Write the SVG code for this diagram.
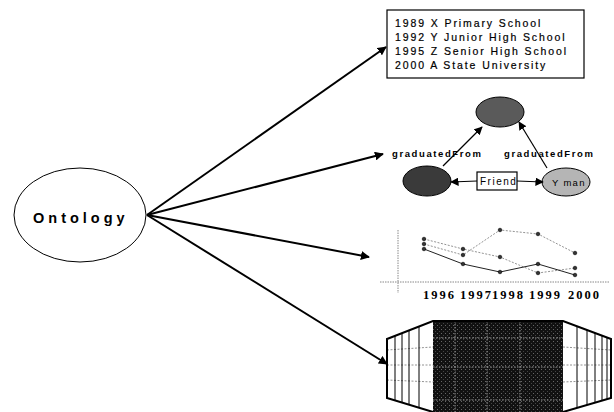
<svg xmlns="http://www.w3.org/2000/svg" width="614" height="412" viewBox="0 0 614 412">
<defs>
<marker id="ah" viewBox="0 0 10 10" refX="9" refY="5" markerWidth="4.5" markerHeight="4.5" orient="auto" markerUnits="strokeWidth"><path d="M0,0 L10,5 L0,10 z" fill="#000"/></marker>
<marker id="ahs" viewBox="0 0 10 10" refX="9" refY="5" markerWidth="7" markerHeight="7" orient="auto" markerUnits="strokeWidth"><path d="M0,0 L10,5 L0,10 z" fill="#000"/></marker>
<pattern id="spk" width="4" height="4" patternUnits="userSpaceOnUse"><rect width="4" height="4" fill="#111"/><rect x="1" y="1" width="1" height="1" fill="#666"/><rect x="3" y="3" width="1" height="1" fill="#444"/></pattern>
</defs>
<style>
.sans{font-family:"Liberation Sans",Arial,sans-serif;fill:#000}
.box{fill:#fff;stroke:#000;stroke-width:1.2}
.con{stroke:#000;stroke-width:2;fill:none}
.thin{stroke:#000;stroke-width:1.2;fill:none}
.pt{fill:#333;stroke:#000;stroke-width:0.6}
.gl{stroke:#777;stroke-width:0.8;stroke-dasharray:2,1.5;fill:none}
.wl{stroke:#bbb;stroke-width:0.8;stroke-dasharray:1.5,1.5;fill:none}
.vl{stroke:#000;stroke-width:1;fill:none}
</style>
<rect width="614" height="412" fill="#fff"/>

<g id="connectors">
<line class="con" x1="147" y1="215" x2="386" y2="47" marker-end="url(#ah)"/>
<line class="con" x1="147" y1="215" x2="383" y2="154" marker-end="url(#ah)"/>
<line class="con" x1="147" y1="215" x2="369" y2="257" marker-end="url(#ah)"/>
<line class="con" x1="147" y1="215" x2="387" y2="364" marker-end="url(#ah)"/>
</g>

<g id="ontology">
<ellipse cx="80" cy="215" rx="66" ry="47" fill="#fff" stroke="#000" stroke-width="1"/>
<text class="sans" x="33" y="223" font-size="14.5" font-weight="bold" letter-spacing="4">Ontology</text>
</g>

<g id="history">
<rect class="box" x="387" y="10" width="197" height="68"/>
<g class="sans" font-size="10.5" letter-spacing="1.9" stroke="#000" stroke-width="0.2">
<text x="395" y="27">1989 X Primary School</text>
<text x="395" y="41">1992 Y Junior High School</text>
<text x="395" y="55">1995 Z Senior High School</text>
<text x="395" y="69">2000 A State University</text>
</g>
</g>

<g id="relations">
<ellipse cx="500" cy="112" rx="24" ry="15" fill="#5a5a5a" stroke="#000" stroke-width="1"/>
<ellipse cx="427" cy="181" rx="24" ry="15" fill="#3a3a3a" stroke="#000" stroke-width="1"/>
<ellipse cx="566" cy="182" rx="24" ry="14" fill="#b5b5b5" stroke="#000" stroke-width="1"/>
<text class="sans" x="552" y="186" font-size="9.5" letter-spacing="1.3">Y man</text>
<line class="thin" x1="443" y1="166" x2="482" y2="127" marker-end="url(#ahs)"/>
<line class="thin" x1="547" y1="168" x2="519" y2="122" marker-end="url(#ahs)"/>
<rect class="box" x="477" y="172" width="40" height="18" stroke-width="1"/>
<text class="sans" x="480" y="185" font-size="10" letter-spacing="1.5">Friend</text>
<line class="thin" x1="477" y1="181" x2="451" y2="182" marker-end="url(#ahs)"/>
<line class="thin" x1="517" y1="181" x2="543" y2="182" marker-end="url(#ahs)"/>
<text class="sans" x="392" y="157" font-size="9.5" font-weight="bold" letter-spacing="1.6">graduatedFrom</text>
<text class="sans" x="504" y="157" font-size="9.5" font-weight="bold" letter-spacing="1.6">graduatedFrom</text>
</g>

<g id="chart">
<line x1="398" y1="230" x2="398" y2="293" stroke="#888" stroke-width="1" stroke-dasharray="1.5,1"/>
<line x1="380" y1="282" x2="610" y2="282" stroke="#888" stroke-width="1" stroke-dasharray="1.5,1"/>
<polyline class="gl" points="424,239 463,249 500,257 538,273 575,268"/>
<polyline class="gl" points="424,244 463,255 500,230 538,234 575,253"/>
<polyline points="424,249 463,264 500,272 538,264 575,275" stroke="#222" stroke-width="1" fill="none"/>
<g>
<circle class="pt" cx="424" cy="239" r="1.8"/><circle class="pt" cx="463" cy="249" r="1.8"/><circle class="pt" cx="500" cy="257" r="1.8"/><circle class="pt" cx="538" cy="273" r="1.8"/><circle class="pt" cx="575" cy="268" r="1.8"/>
<circle class="pt" cx="424" cy="244" r="1.8"/><circle class="pt" cx="463" cy="255" r="1.8"/><circle class="pt" cx="500" cy="230" r="1.8"/><circle class="pt" cx="538" cy="234" r="1.8"/><circle class="pt" cx="575" cy="253" r="1.8"/>
<circle class="pt" cx="424" cy="249" r="1.8"/><circle class="pt" cx="463" cy="264" r="1.8"/><circle class="pt" cx="500" cy="272" r="1.8"/><circle class="pt" cx="538" cy="264" r="1.8"/><circle class="pt" cx="575" cy="275" r="1.8"/>
</g>
<text font-family="Liberation Serif,'Times New Roman',serif" font-size="12.5" font-weight="bold" letter-spacing="2" fill="#000" y="299"><tspan x="423">1996</tspan><tspan x="460">1997</tspan><tspan x="492">1998</tspan><tspan x="529">1999</tspan><tspan x="568">2000</tspan></text>
</g>

<g id="visual">
<rect x="433" y="321" width="130" height="91" fill="url(#spk)"/>
<line class="wl" x1="433" y1="338" x2="563" y2="338"/>
<line class="wl" x1="433" y1="367" x2="563" y2="367"/>
<line class="wl" x1="433" y1="400" x2="563" y2="400"/>
<line class="wl" x1="455" y1="321" x2="455" y2="412"/>
<line class="wl" x1="487" y1="321" x2="487" y2="412"/>
<line class="wl" x1="520" y1="321" x2="520" y2="412"/>
<line class="gl" x1="387" y1="350" x2="433" y2="347"/>
<line class="gl" x1="387" y1="365" x2="433" y2="365"/>
<line class="gl" x1="387" y1="380" x2="433" y2="382"/>
<line class="gl" x1="563" y1="347" x2="611" y2="350"/>
<line class="gl" x1="563" y1="365" x2="611" y2="365"/>
<line class="gl" x1="563" y1="382" x2="611" y2="380"/>
<line class="vl" x1="395" y1="336" x2="395" y2="400"/>
<line class="vl" x1="402" y1="333" x2="402" y2="403"/>
<line class="vl" x1="409" y1="330" x2="409" y2="405"/>
<line class="vl" x1="419" y1="326" x2="419" y2="408"/>
<line class="vl" x1="577" y1="326" x2="577" y2="408"/>
<line class="vl" x1="587" y1="330" x2="587" y2="405"/>
<line class="vl" x1="595" y1="333" x2="595" y2="403"/>
<line class="vl" x1="602" y1="336" x2="602" y2="401"/>
<line class="vl" x1="607" y1="337" x2="607" y2="399"/>
<polyline points="433,412 387,398 387,339 433,321 563,321 611,339 611,398 563,412" fill="none" stroke="#000" stroke-width="2"/>
</g>
</svg>
